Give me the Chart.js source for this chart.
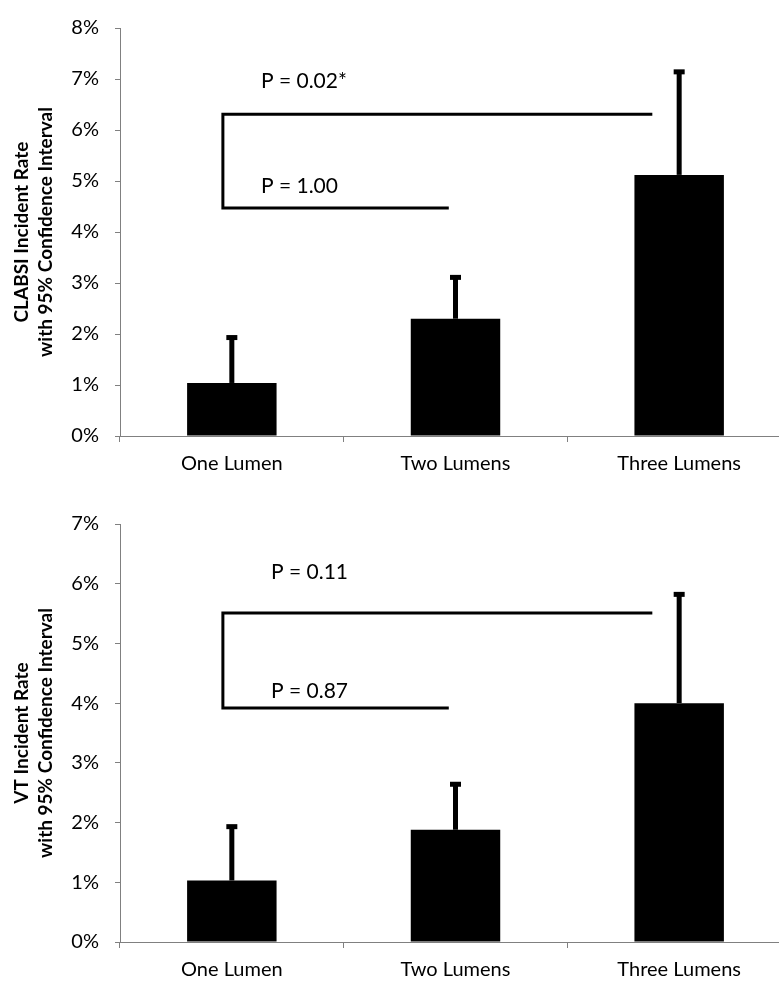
<!DOCTYPE html>
<html>
<head>
<meta charset="utf-8">
<script src="https://cdn.jsdelivr.net/npm/chart.js@4.4.1/dist/chart.umd.min.js"></script>
<style>
  html, body { margin: 0; padding: 0; background: #fff; overflow: hidden; }
  #wrap { position: relative; width: 779px; height: 985px; overflow: hidden; }
  canvas { position: absolute; left: 0; }
</style>
</head>
<body>
<div id="wrap">
  <canvas id="clabsiChart" width="792" height="490" style="top:0"></canvas>
  <canvas id="vtChart" width="792" height="495" style="top:490px"></canvas>
</div>
<script>
// categories and values (percent)
const categories = ["One Lumen", "Two Lumens", "Three Lumens"];

const clabsiRate = [1.04, 2.30, 5.12];
const clabsiUpper = [1.94, 3.12, 7.15];
const clabsiMax = 8;
const clabsiPValues = ["P = 0.02*", "P = 1.00"];
const clabsiBracketLevels = [6.31, 4.47];
const clabsiTextLevels = [6.95, 4.9];

const vtRate = [1.03, 1.88, 4.00];
const vtUpper = [1.94, 2.65, 5.83];
const vtMax = 7;
const vtPValues = ["P = 0.11", "P = 0.87"];
const vtBracketLevels = [5.51, 3.92];
const vtTextLevels = [6.2, 4.2];

// bracket ends in category units: [start, end]
const bracketEnds = [[-0.04, 1.88], [-0.04, 0.97]];

const FONT = "Lato, 'Liberation Sans', sans-serif";
const AXIS_COLOR = "#808080";

// error bars + p-value brackets, drawn through the chart scales
const overlayPlugin = {
  id: "overlay",
  afterDatasetsDraw(chart, args, opts) {
    const ctx = chart.ctx;
    const x = chart.scales.x;
    const y = chart.scales.y;
    ctx.save();
    ctx.fillStyle = "#000";
    ctx.strokeStyle = "#000";

    // error bars
    opts.upper.forEach((up, i) => {
      const cx = x.getPixelForValue(i);
      const yTop = y.getPixelForValue(up);
      const yBase = y.getPixelForValue(opts.values[i]);
      ctx.fillRect(cx - 2.5, yTop, 5, yBase - yTop);
      ctx.fillRect(cx - 5.5, yTop - 2, 11, 5);
    });

    // brackets
    ctx.lineWidth = 3;
    const left = x.getPixelForValue(bracketEnds[0][0]);
    const yHigh = y.getPixelForValue(opts.bracketLevels[0]);
    const yLow = y.getPixelForValue(opts.bracketLevels[1]);
    ctx.beginPath();
    ctx.moveTo(x.getPixelForValue(bracketEnds[0][1]), yHigh);
    ctx.lineTo(left, yHigh);
    ctx.lineTo(left, yLow);
    ctx.lineTo(x.getPixelForValue(bracketEnds[1][1]), yLow);
    ctx.stroke();

    // p-values
    ctx.font = "21px " + FONT;
    ctx.textAlign = "left";
    ctx.textBaseline = "middle";
    opts.pValues.forEach((txt, i) => {
      ctx.fillText(txt, x.getPixelForValue(opts.textX), y.getPixelForValue(opts.textLevels[i]));
    });
    ctx.restore();
  }
};

function makeChart(id, values, upper, yMax, titleLines, extra, pad) {
  const ctx = document.getElementById(id).getContext("2d");
  return new Chart(ctx, {
    type: "bar",
    data: {
      labels: categories,
      datasets: [{
        data: values,
        backgroundColor: "#000",
        borderWidth: 0,
        barPercentage: 0.40,
        categoryPercentage: 1.0
      }]
    },
    plugins: [overlayPlugin],
    options: {
      responsive: false,
      animation: false,
      devicePixelRatio: 1,
      layout: { padding: { top: pad.top, left: 0, right: 1, bottom: 0 } },
      plugins: {
        legend: { display: false },
        tooltip: { enabled: false },
        overlay: Object.assign({ values: values, upper: upper }, extra)
      },
      scales: {
        x: {
          grid: {
            display: true,
            offset: true,
            drawOnChartArea: false,
            drawTicks: true,
            tickLength: 6,
            color: AXIS_COLOR
          },
          border: { display: true, color: AXIS_COLOR, width: 1 },
          ticks: {
            color: "#000",
            font: { family: FONT, size: 20 },
            padding: 10,
            maxRotation: 0
          },
          afterFit: (s) => { s.height = pad.xHeight; }
        },
        y: {
          min: 0,
          max: yMax,
          grid: {
            display: true,
            drawOnChartArea: false,
            drawTicks: true,
            tickLength: 5,
            color: AXIS_COLOR
          },
          border: { display: true, color: AXIS_COLOR, width: 1 },
          ticks: {
            stepSize: 1,
            color: "#000",
            font: { family: FONT, size: 20 },
            padding: 16,
            callback: (v) => v + "%"
          },
          title: {
            display: true,
            text: titleLines,
            color: "#000",
            font: { family: FONT, size: 19, weight: "bold", lineHeight: 1.25 },
            padding: { top: 10, bottom: 0 }
          },
          afterFit: (s) => { s.width = 120; }
        }
      }
    }
  });
}

makeChart("clabsiChart", clabsiRate, clabsiUpper, clabsiMax,
  ["CLABSI Incident Rate", "with 95% Confidence Interval"],
  { pValues: clabsiPValues, bracketLevels: clabsiBracketLevels, textLevels: clabsiTextLevels, textX: 0.13 },
  { top: 15, xHeight: 54 });

makeChart("vtChart", vtRate, vtUpper, vtMax,
  ["VT Incident Rate", "with 95% Confidence Interval"],
  { pValues: vtPValues, bracketLevels: vtBracketLevels, textLevels: vtTextLevels, textX: 0.175 },
  { top: 34, xHeight: 43 });
</script>
</body>
</html>
